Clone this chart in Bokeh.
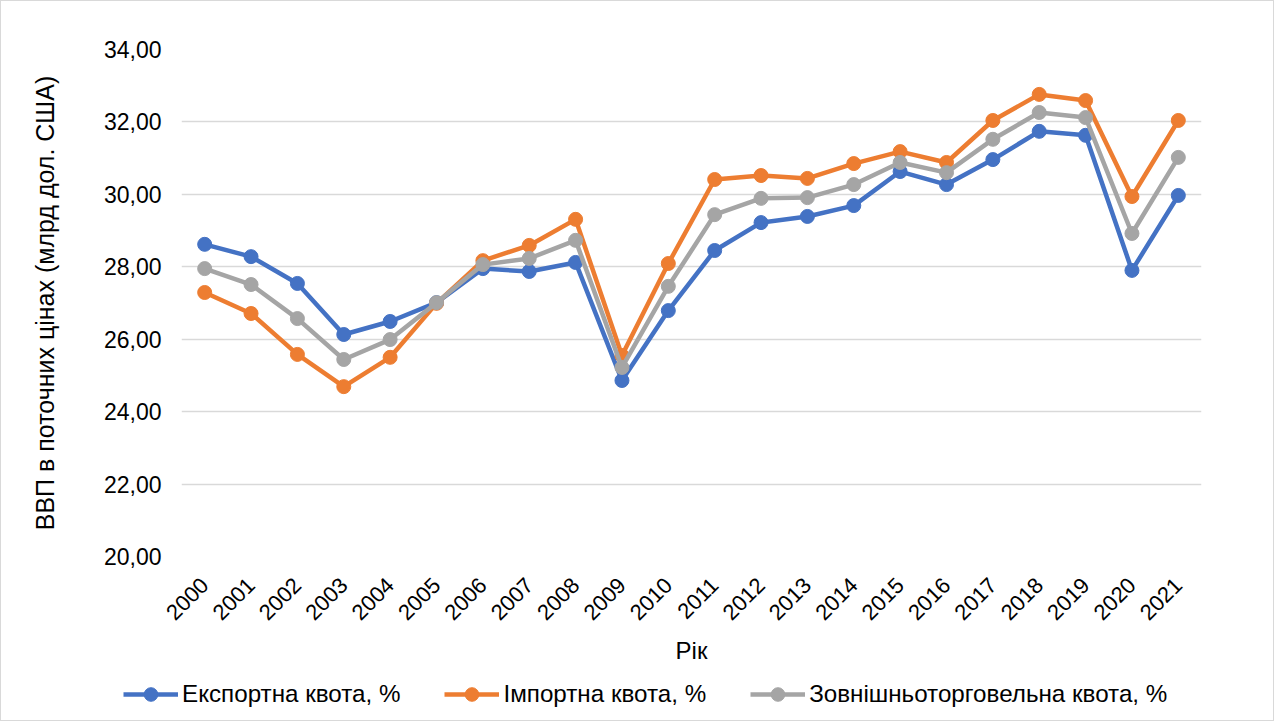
from bokeh.plotting import figure
from bokeh.layouts import column
from bokeh.models import FixedTicker, CustomJSTickFormatter, Legend, LegendItem, Range1d
from bokeh.embed import file_html
from bokeh.resources import INLINE
import math

years = list(range(2000, 2022))
export_q = [28.62, 28.28, 27.54, 26.13, 26.49, 27.01, 27.95, 27.87, 28.12, 24.86, 26.79,
            28.45, 29.22, 29.39, 29.69, 30.63, 30.27, 30.96, 31.74, 31.63, 27.90, 29.97]
import_q = [27.29, 26.71, 25.58, 24.69, 25.50, 26.99, 28.17, 28.59, 29.31, 25.55, 28.09,
            30.41, 30.52, 30.44, 30.85, 31.18, 30.88, 32.04, 32.76, 32.59, 29.94, 32.04]
trade_q = [27.95, 27.51, 26.57, 25.44, 25.99, 27.01, 28.06, 28.23, 28.73, 25.22, 27.46,
           29.44, 29.89, 29.91, 30.27, 30.88, 30.60, 31.52, 32.26, 32.12, 28.92, 31.02]
y_ticks = [20, 22, 24, 26, 28, 30, 32, 34]

names = ["Експортна квота, %", "Імпортна квота, %", "Зовнішньоторговельна квота, %"]
colors = ["#4472C4", "#ED7D31", "#A5A5A5"]
series = [export_q, import_q, trade_q]
FONT = "Liberation Sans"
W = 1272

p = figure(width=W, height=667, output_backend="svg", toolbar_location=None,
           x_range=Range1d(1999.5, 2021.5), y_range=Range1d(20, 34),
           min_border_left=180, min_border_top=48, min_border_right=72, min_border_bottom=112)
p.outline_line_color = None
p.background_fill_color = "white"
p.border_fill_color = "white"
p.frame_align = False

for vals, name, col in zip(series, names, colors):
    p.line(years, vals, line_color=col, line_width=4.5)
    p.scatter(years, vals, size=14, fill_color=col, line_color=col)

p.xgrid.grid_line_color = None
p.ygrid.grid_line_color = "#d9d9d9"
p.ygrid.grid_line_width = 1.5
p.yaxis.ticker = FixedTicker(ticks=y_ticks)
p.xaxis.ticker = FixedTicker(ticks=years)
p.yaxis.formatter = CustomJSTickFormatter(code="return tick.toFixed(2).replace('.', ',');")

for ax in (p.xaxis[0], p.yaxis[0]):
    ax.axis_line_color = None
    ax.major_tick_line_color = None
    ax.minor_tick_line_color = None
    ax.major_tick_out = 0
    ax.major_label_text_font = FONT
    ax.major_label_text_color = "#000000"
    ax.axis_label_text_font = FONT
    ax.axis_label_text_font_style = "normal"
    ax.axis_label_text_color = "#000000"

p.xaxis.major_label_text_font_size = "22px"
p.yaxis.major_label_text_font_size = "23px"
p.xaxis.axis_label_text_font_size = "24px"
p.yaxis.axis_label_text_font_size = "25px"

p.xaxis.major_label_orientation = math.pi / 4
p.xaxis.major_label_standoff = 25
p.xaxis.axis_label = "Рік"
p.xaxis.axis_label_standoff = 7
p.yaxis.axis_label = "ВВП в поточних цінах (млрд дол. США)"
p.yaxis.major_label_standoff = 20
p.yaxis.axis_label_standoff = 42

# legend strip below the chart (series drawn out of view so only legend glyphs show)
lg = figure(width=W, height=52, output_backend="svg", toolbar_location=None,
            x_axis_type=None, y_axis_type=None, x_range=Range1d(0, 1), y_range=Range1d(0, 1),
            min_border=0)
lg.outline_line_color = None
lg.border_fill_color = "white"
lg.background_fill_color = "white"
lg.frame_align = False
items = []
for vals, name, col in zip(series, names, colors):
    r1 = lg.line(years, vals, line_color=col, line_width=4.5)
    r2 = lg.scatter(years, vals, size=14, fill_color=col, line_color=col)
    items.append(LegendItem(label=name, renderers=[r1, r2]))

legend = Legend(items=items, orientation="horizontal", location=(122, 9),
                glyph_width=55, glyph_height=34, label_text_font=FONT,
                label_text_font_size="24.2px", label_text_color="#000000",
                spacing=44, label_standoff=4, border_line_color=None,
                background_fill_alpha=0, margin=0, padding=4)
lg.add_layout(legend, "center")

layout = column(p, lg, spacing=0)
layout.styles = {"border": "1px solid #d9d9d9", "background-color": "white"}

open("out.html", "w").write(file_html(layout, INLINE))
